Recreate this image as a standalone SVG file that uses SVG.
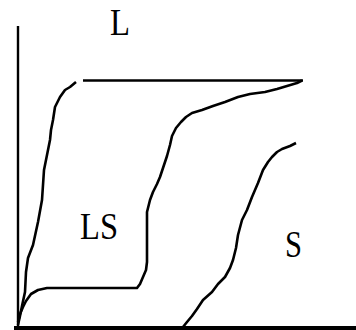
<svg xmlns="http://www.w3.org/2000/svg" width="356" height="330" viewBox="0 0 356 330">
<style>
.ax{stroke:#000;fill:none}
.cv{stroke:#000;fill:none;stroke-width:2.6;stroke-linejoin:round;stroke-linecap:butt}
.lb{font-family:"Liberation Serif","Times New Roman",serif;font-size:37px;fill:#000}
</style>
<rect width="356" height="330" fill="#fff"/>
<g id="axes">
<line class="ax" x1="18" y1="26" x2="18" y2="328" stroke-width="2.4"/>
<line class="ax" x1="14" y1="328" x2="356" y2="328" stroke-width="4"/>
</g>
<g id="curves">
<polyline id="curve-L" class="cv" points="18,325 20,316 22,306 25,292 26,272 28,258 33,245 38,222 42,200 44,170 46,160 50,140 51,130 53,120 55,107 60,97 65,90 70,87 76,82"/>
<line id="top-line" class="cv" x1="83" y1="80.5" x2="303" y2="80.5" stroke-width="3"/>
<polyline id="curve-LS" class="cv" points="18,322 20,314 23,307 26,301 31,294 38,290 47,288 137,288 140,284 143,277 146,270 147,262 147,212 150,200 153,192 157,184 160,177 163,168 167,156 170,145 172,136 176,128 181,122 186,117 192,113 202,110 213,106 225,102 238,97 250,94 265,92 277,89 287,86 297,83 302,80.5"/>
<polyline id="curve-S" class="cv" points="183,327 187,322 192,316 197,309 203,300 212,292 218,284 225,277 230,268 233,260 236,248 238,235 242,220 247,210 252,197 258,183 263,170 268,162 272,157 277,152 282,149 290,146 296,143"/>
</g>
<g id="labels">
<text class="lb" x="110" y="35" textLength="20" lengthAdjust="spacingAndGlyphs">L</text>
<text class="lb" x="80" y="239" textLength="38" lengthAdjust="spacingAndGlyphs">LS</text>
<text class="lb" x="285" y="257" textLength="17" lengthAdjust="spacingAndGlyphs">S</text>
</g>
</svg>
